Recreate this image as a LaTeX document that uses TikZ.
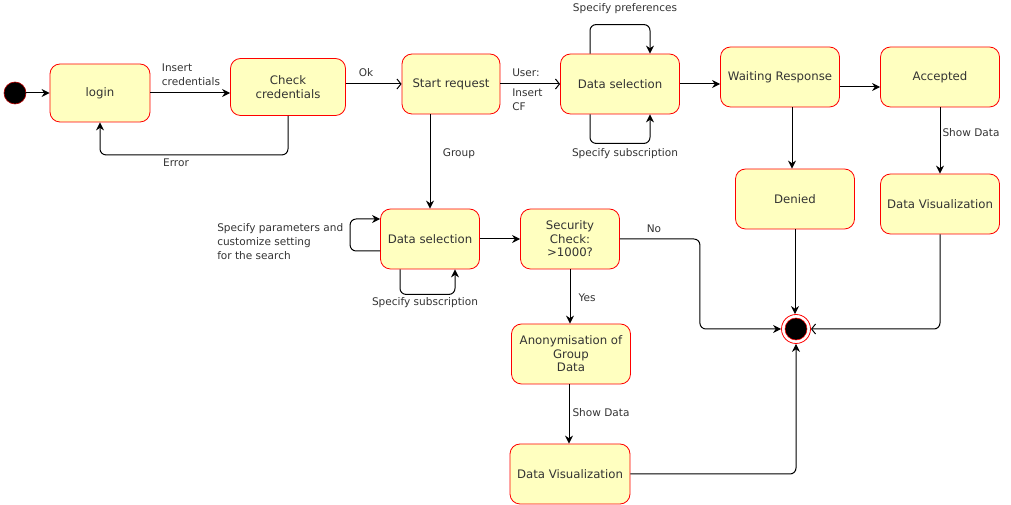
\documentclass[tikz,border=0pt]{standalone}
\usepackage{fontspec}
\setmainfont{DejaVu Sans}
\usetikzlibrary{arrows.meta,calc}
\def\px{0.75pt}
\definecolor{stfill}{HTML}{FFFFC0}
\definecolor{sttext}{HTML}{333333}
\tikzset{
  state/.style={rectangle, rounded corners=10*\px, draw=red, fill=stfill, text=sttext,
    font=\fontsize{8.8}{10.1}\selectfont, align=center, inner sep=0pt, line width=0.6pt},
  lbl/.style={font=\fontsize{7.9}{10.5}\selectfont, text=sttext, inner sep=0pt},
  conn/.style={line width=0.75pt, draw=black, rounded corners=6*\px},
  fa/.style={-{Stealth[length=8*\px,width=8*\px]}},
  oa/.style={-{Straight Barb[length=4*\px,width=10*\px]}},
}
\begin{document}
\begin{tikzpicture}[x=0.75pt,y=-0.75pt]
\useasboundingbox (0,0) rectangle (1011,505);
% states
\node[circle, fill=black, draw=red!70!black, line width=0.5pt, minimum size=22*\px, inner sep=0pt] (start) at (15,93) {};
\node[state, minimum width=100*\px, minimum height=58*\px] (login) at (100,93) {login};
\node[state, minimum width=115*\px, minimum height=57*\px] (check) at (288,87) {Check\\credentials};
\node[state, minimum width=98*\px, minimum height=60*\px] (startreq) at (451,84) {Start request};
\node[state, minimum width=119*\px, minimum height=60*\px] (dsel1) at (620,84) {Data selection};
\node[state, minimum width=119*\px, minimum height=60*\px] (wait) at (780,77) {Waiting Response};
\node[state, minimum width=119*\px, minimum height=60*\px] (acc) at (940,77) {Accepted};
\node[state, minimum width=119*\px, minimum height=60*\px] (denied) at (795,199) {Denied};
\node[state, minimum width=119*\px, minimum height=60*\px] (dvis1) at (940,204) {Data Visualization};
\node[state, minimum width=99*\px, minimum height=60*\px] (dsel2) at (430,239) {Data selection};
\node[state, minimum width=99*\px, minimum height=60*\px] (sec) at (570,239) {Security\\Check:\\ \textgreater1000?};
\node[state, minimum width=119*\px, minimum height=60*\px] (anon) at (571,354) {Anonymisation of\\Group\\ Data};
\node[state, minimum width=120*\px, minimum height=60*\px] (dvis2) at (570,474) {Data Visualization};
\node[circle, draw=red, fill=white, line width=0.6pt, minimum size=29*\px, inner sep=0pt] (end) at (796,329) {};
\fill[black, draw=red, line width=0.4pt] (end.center) circle (11);
% helper coordinates
\coordinate (wa) at ($(wait.east)+(0,10)$);
\coordinate (wd) at ($(wait.south)+(12,0)$);
\coordinate (ad) at ($(anon.south)+(-2,0)$);
\coordinate (sn) at ($(sec.east)+(80,0)$);
% connectors
\draw[conn, fa] (start) -- (login.west);
\draw[conn, fa] (login.east) -- (login.east -| check.west);
\draw[conn, oa] (check.east |- startreq.west) -- (startreq.west);
\draw[conn, fa] (check.south) -- ++(0,39) -| (login.south);
\draw[conn, oa] (startreq.east) -- (dsel1.west);
\draw[conn, fa] ($(dsel1.north)+(-30,0)$) -- ++(0,-29) -| ($(dsel1.north)+(30,0)$);
\draw[conn, fa] ($(dsel1.south)+(-30,0)$) -- ++(0,29) -| ($(dsel1.south)+(30,0)$);
\draw[conn, fa] (dsel1.east) -- (dsel1.east -| wait.west);
\draw[conn, fa] (wa) -- (wa -| acc.west);
\draw[conn, fa] (wd) -- (wd |- denied.north);
\draw[conn, fa] (acc.south) -- (dvis1.north);
\draw[conn, fa] (startreq.south -| dsel2.north) -- (dsel2.north);
\draw[conn, fa] ($(dsel2.west)+(0,12)$) -- ++(-30,0) |- ($(dsel2.west)+(0,-20)$);
\draw[conn, fa] ($(dsel2.south)+(-30,0)$) -- ++(0,25) -| ($(dsel2.south)+(25,0)$);
\draw[conn, fa] (dsel2.east) -- (sec.west);
\draw[conn, fa] (sec.east) -- (sn) |- (end.west);
\draw[conn, fa] (sec.south) -- (sec.south |- anon.north);
\draw[conn, fa] (ad) -- (ad |- dvis2.north);
\draw[conn, fa] (dvis2.east) -| (end.south);
\draw[conn, fa] (denied.south) -- (denied.south |- end.north);
\draw[conn, oa] (dvis1.south) |- (end.east);
% labels
\node[lbl, align=left] (l1) at (191,75) {Insert\\credentials};
\node[lbl] (l2) at (366,73) {Ok};
\node[lbl] (l3) at (176,163) {Error};
\node[lbl, align=left, anchor=west] (l4) at (512,90) {User:\\[4.5pt]Insert\\CF};
\node[lbl] (l5) at (625,9) {Specify preferences};
\node[lbl] (l6) at (625,154) {Specify subscription};
\node[lbl] (l7) at (971,133) {Show Data};
\node[lbl] (l8) at (459,154) {Group};
\node[lbl, align=left, anchor=west] (l9) at (217,242) {Specify parameters and\\customize setting\\for the search};
\node[lbl] (l10) at (425,303) {Specify subscription};
\node[lbl] (l11) at (654,229) {No};
\node[lbl] (l12) at (587,298) {Yes};
\node[lbl] (l13) at (601,413) {Show Data};
\end{tikzpicture}
\end{document}
